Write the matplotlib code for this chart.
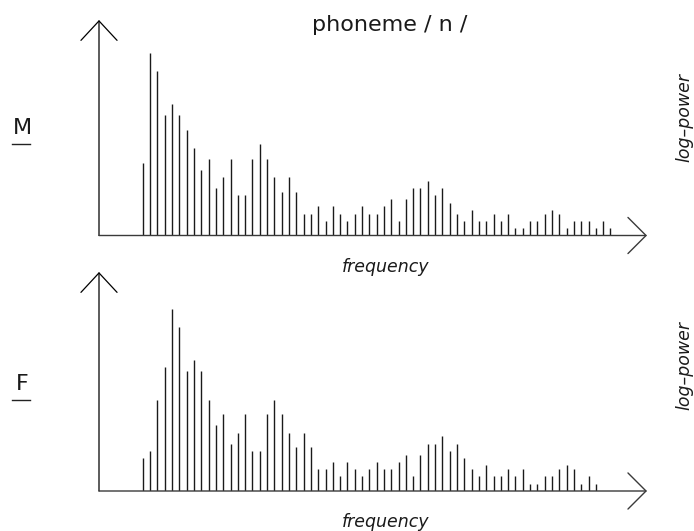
import matplotlib
matplotlib.use("Agg")
import matplotlib.pyplot as plt
from matplotlib.lines import Line2D

# Harmonic log-power levels (arbitrary units)
male_power = [20, 50, 45, 33, 36, 33, 29, 24, 18, 21, 13, 16, 21, 11, 11, 21,
              25, 21, 16, 12, 16, 12, 6, 6, 8, 4, 8, 6, 4, 6, 8, 6, 6,
              8, 10, 4, 10, 13, 13, 15, 11, 13, 9, 6, 4, 7, 4, 4, 6, 4, 6,
              2, 2, 4, 4, 6, 7, 6, 2, 4, 4, 4, 2, 4, 2]
female_power = [9, 11, 25, 34, 50, 45, 33, 36, 33, 25, 18, 21, 13, 16, 21, 11,
                11, 21, 25, 21, 16, 12, 16, 12, 6, 6, 8, 4, 8, 6, 4, 6, 8,
                6, 6, 8, 10, 4, 10, 13, 13, 15, 11, 13, 9, 6, 4, 7, 4, 4, 6,
                4, 6, 2, 2, 4, 4, 6, 7, 6, 2, 4, 2]
male_harm = list(range(1, len(male_power) + 1))
female_harm = list(range(1, len(female_power) + 1))

title = "phoneme / n /"
panel_labels = ["M", "F"]
xlabel = "frequency"
ylabel = "log\u2013power"

W, H = 694, 531
fig = plt.figure(figsize=(W / 100, H / 100), dpi=100)
FONT = "DejaVu Sans"


def fx(px):
    return px / W


def fy(py):
    return 1 - py / H


def make_axes(top_px, base_px, harm, power, ymax):
    left, right = 99, 647
    ax = fig.add_axes([fx(left), fy(base_px), (right - left) / W, (base_px - top_px) / H])
    ax.vlines(harm, 0, power, colors="#1a1a1a", linewidth=1.0)
    ax.set_xlim(-5, 70)
    ax.set_ylim(0, ymax)
    ax.axis("off")
    ax.annotate("", xy=(0, 1), xytext=(0, 0), xycoords="axes fraction",
                arrowprops=dict(arrowstyle="->,head_length=14,head_width=13",
                                mutation_scale=1, lw=0.9, color="black",
                                shrinkA=0, shrinkB=0))
    ax.annotate("", xy=(1, 0), xytext=(0, 0), xycoords="axes fraction",
                arrowprops=dict(arrowstyle="->,head_length=13,head_width=13",
                                mutation_scale=1, lw=1.0, color="#3a3a3a",
                                shrinkA=0, shrinkB=0))
    return ax


make_axes(20, 235.5, male_harm, male_power, 215.5 / 3.647)
make_axes(272, 491, female_harm, female_power, 219 / 3.647)

fig.text(fx(390), fy(25), title, ha="center", va="center", fontsize=16,
         family=FONT, color="#1a1a1a")

for lab, cy, uy in [(panel_labels[0], 128, 144), (panel_labels[1], 384, 399.5)]:
    fig.text(fx(22), fy(cy), lab, ha="center", va="center", fontsize=16,
             family=FONT, color="#1a1a1a")
    fig.add_artist(Line2D([fx(12), fx(30)], [fy(uy), fy(uy)], color="#222222", lw=1.0))

for cy in [267, 522]:
    fig.text(fx(386), fy(cy), xlabel, ha="center", va="center", fontsize=12.5,
             family=FONT, style="italic", color="#1a1a1a")

for cy in [118, 365]:
    fig.text(fx(684), fy(cy), ylabel, ha="center", va="center", fontsize=12.5,
             family=FONT, style="italic", rotation=90, color="#1a1a1a")

fig.savefig("out.png", dpi=100)
